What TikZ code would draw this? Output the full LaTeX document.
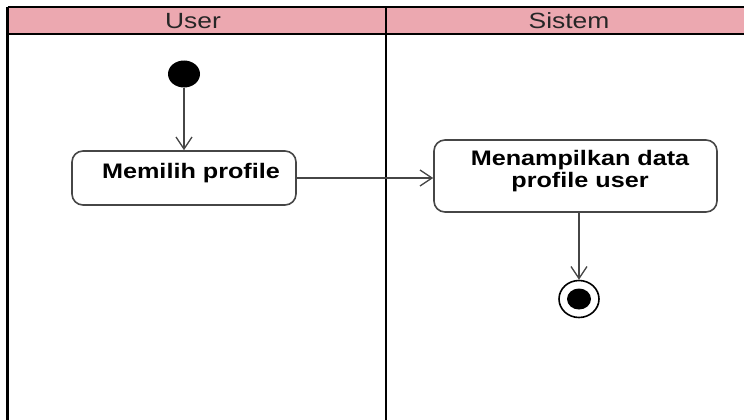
\documentclass[tikz,border=0pt]{standalone}
\usepackage{fontspec}
\setmainfont{Liberation Sans}
\newfontfamily\lanefont[FakeStretch=1.2]{Liberation Sans}
\newfontfamily\actfont[FakeStretch=1.2]{Liberation Sans}
\usetikzlibrary{arrows.meta,shapes.geometric}
\definecolor{lanehead}{RGB}{236,168,176}
\definecolor{edgegray}{RGB}{70,70,70}
\tikzset{
  x=1pt, y=-1pt,
  lane/.style={line width=2.6pt, black},
  action/.style={draw=edgegray, line width=1.6pt, rounded corners=11pt, fill=white,
    align=center, inner sep=0pt, font=\actfont\bfseries\fontsize{21}{22}\selectfont},
  flow/.style={draw=edgegray, line width=1.3pt,
    -{Straight Barb[length=12pt,width=16pt,line width=1.3pt]}},
  startnode/.style={ellipse, fill=black, minimum width=32pt, minimum height=27pt, inner sep=0pt},
  endouter/.style={ellipse, draw=black, line width=1.6pt, fill=white, minimum width=40pt, minimum height=37pt, inner sep=0pt},
  endinner/.style={ellipse, fill=black, minimum width=24pt, minimum height=21pt, inner sep=0pt},
  headtext/.style={font=\lanefont\fontsize{22}{24}\selectfont, text=black!85}
}
\begin{document}
\begin{tikzpicture}
\useasboundingbox (0,0) rectangle (744,420);
\fill[white] (0,0) rectangle (744,420);
\begin{scope}
\clip (0,0) rectangle (744,420);
% swimlane header band
\fill[lanehead] (7.5,7) rectangle (760,34);
\draw[lane] (7.5,7) -- (760,7);
\draw[lane] (7.5,34) -- (760,34);
% lane separators
\draw[lane] (7.5,7) -- (7.5,430);
\draw[lane] (386,7) -- (386,430);
\end{scope}
\node[headtext] (hUser) at (193,21) {User};
\node[headtext] (hSistem) at (569,21) {Sistem};

% activity nodes
\node[startnode] (start) at (184,74) {};
\node[action, minimum width=224pt, minimum height=54pt] (pilih) at (184,178) {};
\node[font=\actfont\bfseries\fontsize{21}{22}\selectfont] (pilihtext) at (191,173) {Memilih profile};
\node[action, minimum width=283pt, minimum height=72pt] (tampil) at (575.5,176) {};
\node[align=center, font=\actfont\bfseries\fontsize{21}{22}\selectfont] (tampiltext) at (580,171) {Menampilkan data\\profile user};
\node[endouter] (final) at (579,299) {};
\node[endinner] (finaldot) at (final.center) {};

% control flow
\draw[flow] (start) -- (pilih);
\draw[flow] (pilih.east) -- (pilih.east -| tampil.west);
\draw[flow] (tampil.south -| final) -- (final);
\end{tikzpicture}
\end{document}
